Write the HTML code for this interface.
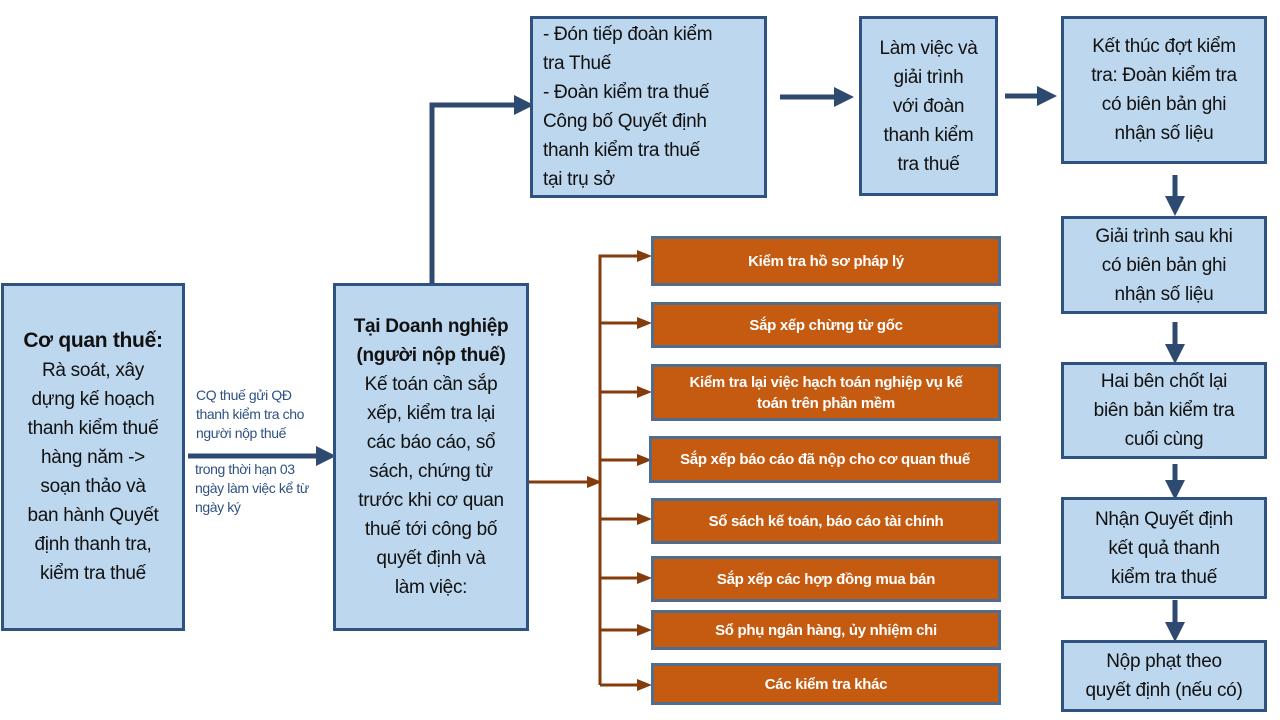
<!DOCTYPE html>
<html><head><meta charset="utf-8"><style>
body{margin:0;width:1280px;height:720px;background:#fff;position:relative;overflow:hidden;font-family:"Liberation Sans","DejaVu Sans",sans-serif}
.b{position:absolute;box-sizing:border-box;background:#bdd7ee;border:3px solid #2f5281;color:#111;display:flex;align-items:center;justify-content:center;text-align:center;font-size:19px;line-height:29px;letter-spacing:-0.3px;white-space:nowrap}
.o{position:absolute;box-sizing:border-box;background:#c55a11;border:3px solid #4e6d8f;color:#fff;font-weight:bold;display:flex;align-items:center;justify-content:center;text-align:center;font-size:15px;line-height:21px;letter-spacing:-0.3px;white-space:nowrap}
.t{position:absolute;color:#2f5281;font-size:14px;line-height:19px;letter-spacing:-0.4px;white-space:nowrap}
svg{position:absolute;left:0;top:0}
</style></head><body>
<svg width="1280" height="720">
<defs>
<marker id="ab" markerWidth="4" markerHeight="4" refX="2" refY="2" orient="auto"><path d="M0,0L4,2L0,4z" fill="#2f4a70"/></marker>
<marker id="ao" markerWidth="5" markerHeight="4" refX="3" refY="2" orient="auto"><path d="M0,0L5,2L0,4z" fill="#843c0c"/></marker>
</defs>
<g stroke="#2f4a70" stroke-width="5" fill="none">
<path d="M188,456H326" marker-end="url(#ab)"/>
<path d="M432,283V105H524" marker-end="url(#ab)"/>
<path d="M780,97H844" marker-end="url(#ab)"/>
<path d="M1005,96H1047" marker-end="url(#ab)"/>
<path d="M1175,175V206"  marker-end="url(#ab)"/>
<path d="M1175,322V354" marker-end="url(#ab)"/>
<path d="M1175,464V490" marker-end="url(#ab)"/>
<path d="M1175,600V632" marker-end="url(#ab)"/>
</g>
<g stroke="#843c0c" stroke-width="3" fill="none">
<path d="M528,482H596" marker-end="url(#ao)"/>
<path d="M600,685V256H646" marker-end="url(#ao)"/>
<path d="M600,323H646" marker-end="url(#ao)"/>
<path d="M600,392H646" marker-end="url(#ao)"/>
<path d="M600,460H646" marker-end="url(#ao)"/>
<path d="M600,519H646" marker-end="url(#ao)"/>
<path d="M600,578H646" marker-end="url(#ao)"/>
<path d="M600,630H646" marker-end="url(#ao)"/>
<path d="M600,685H646" marker-end="url(#ao)"/>
</g>
</svg>
<div class="b" style="left:1px;top:283px;width:184px;height:348px"><div><b style="font-size:21px">Cơ quan thuế:</b><br>Rà soát, xây<br>dựng kế hoạch<br>thanh kiểm thuế<br>hàng năm -&gt;<br>soạn thảo và<br>ban hành Quyết<br>định thanh tra,<br>kiểm tra thuế</div></div>
<div class="b" style="left:333px;top:283px;width:196px;height:348px"><div><b>Tại Doanh nghiệp<br>(người nộp thuế)</b><br>Kế toán cần sắp<br>xếp, kiểm tra lại<br>các báo cáo, sổ<br>sách, chứng từ<br>trước khi cơ quan<br>thuế tới công bố<br>quyết định và<br>làm việc:</div></div>
<div class="b" style="left:530px;top:16px;width:237px;height:182px;justify-content:flex-start;text-align:left;padding:0 10px"><div>- Đón tiếp đoàn kiểm<br>tra Thuế<br>- Đoàn kiểm tra thuế<br>Công bố Quyết định<br>thanh kiểm tra thuế<br>tại trụ sở</div></div>
<div class="b" style="left:859px;top:16px;width:139px;height:180px"><div>Làm việc và<br>giải trình<br>với đoàn<br>thanh kiểm<br>tra thuế</div></div>
<div class="b" style="left:1061px;top:16px;width:206px;height:148px"><div>Kết thúc đợt kiểm<br>tra: Đoàn kiểm tra<br>có biên bản ghi<br>nhận số liệu</div></div>
<div class="b" style="left:1061px;top:216px;width:206px;height:98px"><div>Giải trình sau khi<br>có biên bản ghi<br>nhận số liệu</div></div>
<div class="b" style="left:1061px;top:362px;width:206px;height:97px"><div>Hai bên chốt lại<br>biên bản kiểm tra<br>cuối cùng</div></div>
<div class="b" style="left:1061px;top:497px;width:206px;height:102px"><div>Nhận Quyết định<br>kết quả thanh<br>kiểm tra thuế</div></div>
<div class="b" style="left:1061px;top:640px;width:206px;height:72px"><div>Nộp phạt theo<br>quyết định (nếu có)</div></div>
<div class="t" style="left:196px;top:386px">CQ thuế gửi QĐ<br>thanh kiểm tra cho<br>người nộp thuế</div>
<div class="t" style="left:195px;top:460px">trong thời hạn 03<br>ngày làm việc kể từ<br>ngày ký</div>
<div class="o" style="left:651px;top:236px;width:350px;height:50px">Kiểm tra hồ sơ pháp lý</div>
<div class="o" style="left:651px;top:302px;width:350px;height:46px">Sắp xếp chừng từ gốc</div>
<div class="o" style="left:651px;top:364px;width:350px;height:57px">Kiểm tra lại việc hạch toán nghiệp vụ kế<br>toán trên phần mềm</div>
<div class="o" style="left:649px;top:436px;width:352px;height:47px">Sắp xếp báo cáo đã nộp cho cơ quan thuế</div>
<div class="o" style="left:651px;top:498px;width:350px;height:46px">Sổ sách kế toán, báo cáo tài chính</div>
<div class="o" style="left:651px;top:556px;width:350px;height:46px">Sắp xếp các hợp đồng mua bán</div>
<div class="o" style="left:651px;top:610px;width:350px;height:40px">Sổ phụ ngân hàng, ủy nhiệm chi</div>
<div class="o" style="left:651px;top:663px;width:350px;height:42px">Các kiểm tra khác</div>
</body></html>
